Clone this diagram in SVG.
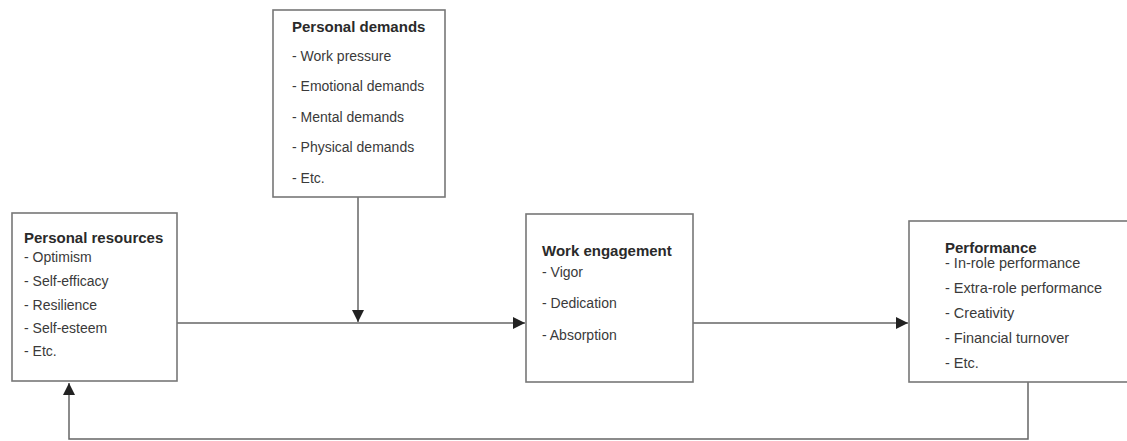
<svg xmlns="http://www.w3.org/2000/svg" width="1127" height="441" viewBox="0 0 1127 441">
<defs>
<marker id="arr" viewBox="0 0 10 10" refX="10" refY="5" markerWidth="12" markerHeight="12" markerUnits="userSpaceOnUse" orient="auto">
<path d="M0,0 L10,5 L0,10 Z" fill="#222"/>
</marker>
<style>
.box{fill:#fff;stroke:#777;stroke-width:1.6}
.t{font-family:"Liberation Sans",Arial,sans-serif;font-weight:bold;font-size:15px;fill:#2a2a2a}
.i{font-family:"Liberation Sans",Arial,sans-serif;font-size:14px;fill:#3a3a3a}
.c{fill:none;stroke:#666;stroke-width:1.5}
</style>
</defs>
<rect width="1127" height="441" fill="#fff"/>
<g id="connectors">
<line class="c" x1="177" y1="323" x2="525" y2="323" marker-end="url(#arr)"/>
<line class="c" x1="358" y1="197" x2="358" y2="322" marker-end="url(#arr)"/>
<line class="c" x1="693" y1="323" x2="908" y2="323" marker-end="url(#arr)"/>
<polyline class="c" points="1028,382 1028,439 69,439 69,383" marker-end="url(#arr)"/>
</g>
<g id="personal-demands">
<rect class="box" x="273" y="10" width="172" height="187"/>
<text class="t" x="292" y="32">Personal demands</text>
<text class="i" x="292" y="61">- Work pressure</text>
<text class="i" x="292" y="91">- Emotional demands</text>
<text class="i" x="292" y="122">- Mental demands</text>
<text class="i" x="292" y="152">- Physical demands</text>
<text class="i" x="292" y="183">- Etc.</text>
</g>
<g id="personal-resources">
<rect class="box" x="12" y="213" width="165" height="168"/>
<text class="t" x="24" y="243">Personal resources</text>
<text class="i" x="24" y="262">- Optimism</text>
<text class="i" x="24" y="286">- Self-efficacy</text>
<text class="i" x="24" y="310">- Resilience</text>
<text class="i" x="24" y="333">- Self-esteem</text>
<text class="i" x="24" y="356">- Etc.</text>
</g>
<g id="work-engagement">
<rect class="box" x="526" y="214" width="167" height="168"/>
<text class="t" x="542" y="256">Work engagement</text>
<text class="i" x="542" y="277">- Vigor</text>
<text class="i" x="542" y="308">- Dedication</text>
<text class="i" x="542" y="340">- Absorption</text>
</g>
<g id="performance">
<rect class="box" x="909" y="221" width="230" height="161"/>
<text class="t" x="945" y="253">Performance</text>
<text class="i" x="945" y="268" style="font-size:14.5px">- In-role performance</text>
<text class="i" x="945" y="293" style="font-size:14.5px">- Extra-role performance</text>
<text class="i" x="945" y="318" style="font-size:14.5px">- Creativity</text>
<text class="i" x="945" y="343" style="font-size:14.5px">- Financial turnover</text>
<text class="i" x="945" y="368" style="font-size:14.5px">- Etc.</text>
</g>
</svg>
